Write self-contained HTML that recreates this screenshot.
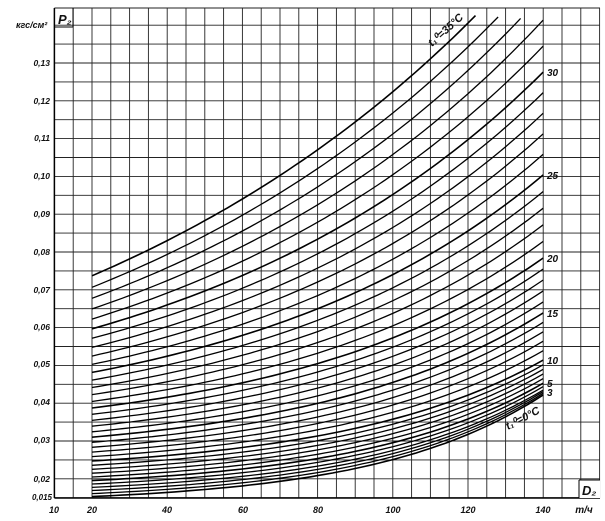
<!DOCTYPE html>
<html><head><meta charset="utf-8"><style>
html,body{margin:0;padding:0;background:#fff;}
svg{display:block;}
text{font-family:"Liberation Sans",sans-serif;font-style:italic;font-weight:bold;fill:#111;}
</style></head><body>
<svg id="s" width="605" height="521" viewBox="0 0 605 521" xmlns="http://www.w3.org/2000/svg">
<g id="grid" stroke="#222" stroke-width="0.9"></g>
<g id="curves" fill="none" stroke="#000" stroke-width="1.3"></g>
<line x1="54.4" y1="8" x2="54.4" y2="498" stroke="#000" stroke-width="1.5"/>
<line x1="54.4" y1="498" x2="600" y2="498" stroke="#000" stroke-width="1.5"/>
<text x="16" y="28" font-size="9">кгс/см²</text>
<text x="58" y="24" font-size="13" font-style="italic">P₂</text>
<line x1="55" y1="27" x2="73" y2="27" stroke="#000" stroke-width="1"/>
<line x1="73" y1="8" x2="73" y2="27" stroke="#000" stroke-width="1"/>
<g font-size="8.5" text-anchor="end">
<text x="50" y="66">0,13</text><text x="50" y="104">0,12</text><text x="50" y="141">0,11</text>
<text x="50" y="179">0,10</text><text x="50" y="217">0,09</text><text x="50" y="255">0,08</text>
<text x="50" y="293">0,07</text><text x="50" y="330">0,06</text><text x="50" y="367">0,05</text>
<text x="50" y="405">0,04</text><text x="50" y="443">0,03</text><text x="50" y="482">0,02</text>
<text x="52" y="500" font-size="8">0,015</text>
</g>
<g font-size="9" text-anchor="middle">
<text x="54" y="513">10</text><text x="92" y="513">20</text><text x="167" y="513">40</text>
<text x="243" y="513">60</text><text x="318" y="513">80</text><text x="393" y="513">100</text>
<text x="468" y="513">120</text><text x="543" y="513">140</text>
<text x="584" y="513" font-size="10">m/ч</text>
</g>
<rect x="579" y="480" width="21" height="18" fill="#fff"/>
<line x1="579" y1="480" x2="579" y2="498" stroke="#000"/><line x1="579" y1="480" x2="600" y2="480" stroke="#000"/>
<text x="582" y="495" font-size="13" font-style="normal" font-family="Liberation Serif">D₂</text>
<g font-size="10" font-style="normal">
<text x="547" y="76">30</text><text x="547" y="179">25</text><text x="547" y="262">20</text>
<text x="547" y="317">15</text><text x="547" y="364">10</text><text x="547" y="387">5</text><text x="547" y="396">3</text>
</g>
<text x="432" y="47" font-size="11" transform="rotate(-42 432 47)">t₁⁰=35°C</text>
<text x="508" y="430" font-size="11" transform="rotate(-28 508 430)">t₁⁰=0°C</text>
</svg>
<script>
var NS="http://www.w3.org/2000/svg";
function X(D){return 54.4+(D-10)*3.76;}
function Y(p){return 63+(0.13-p)*3780;}
var g=document.getElementById("grid");
for(var i=0;i<=29;i++){var x=54.4+18.8*i;var l=document.createElementNS(NS,"line");l.setAttribute("x1",x);l.setAttribute("x2",x);l.setAttribute("y1",8);l.setAttribute("y2",498);g.appendChild(l);}
for(var k=-3;k<=23;k++){var y=63+18.9*k;if(y<7)y=8;var l=document.createElementNS(NS,"line");l.setAttribute("x1",54.4);l.setAttribute("x2",600);l.setAttribute("y1",y);l.setAttribute("y2",y);g.appendChild(l);}
var tt=[0,3,5,10,15,20,25,30,35],pp=[0.0422,0.0435,0.0453,0.0514,0.0639,0.0784,0.1004,0.1276,0.162];
function p140(t){for(var i=0;i<tt.length-1;i++){if(t<=tt[i+1]){var f=(t-tt[i])/(tt[i+1]-tt[i]);return pp[i]+f*(pp[i+1]-pp[i]);}}return pp[pp.length-1];}
function p20(t){var k=0.04;return 0.0153+(0.0737-0.0153)*(Math.exp(k*t)-1)/(Math.exp(35*k)-1);}
var c=document.getElementById("curves");
for(var t=0;t<=35;t++){
 var a=p20(t),b=p140(t),cc=2.7-1.7*t/35,d="";
 for(var D=20;D<=140;D+=2){var u=(D-20)/120;var h=(Math.exp(cc*u)-1)/(Math.exp(cc)-1);var p=a+(b-a)*h;var y=Y(p);if(y<15)break;d+=(d?"L":"M")+X(D).toFixed(1)+" "+y.toFixed(1);}
 var e=document.createElementNS(NS,"path");e.setAttribute("d",d);if(t%5==0)e.setAttribute("stroke-width","1.6");c.appendChild(e);}
</script>
</body></html>
